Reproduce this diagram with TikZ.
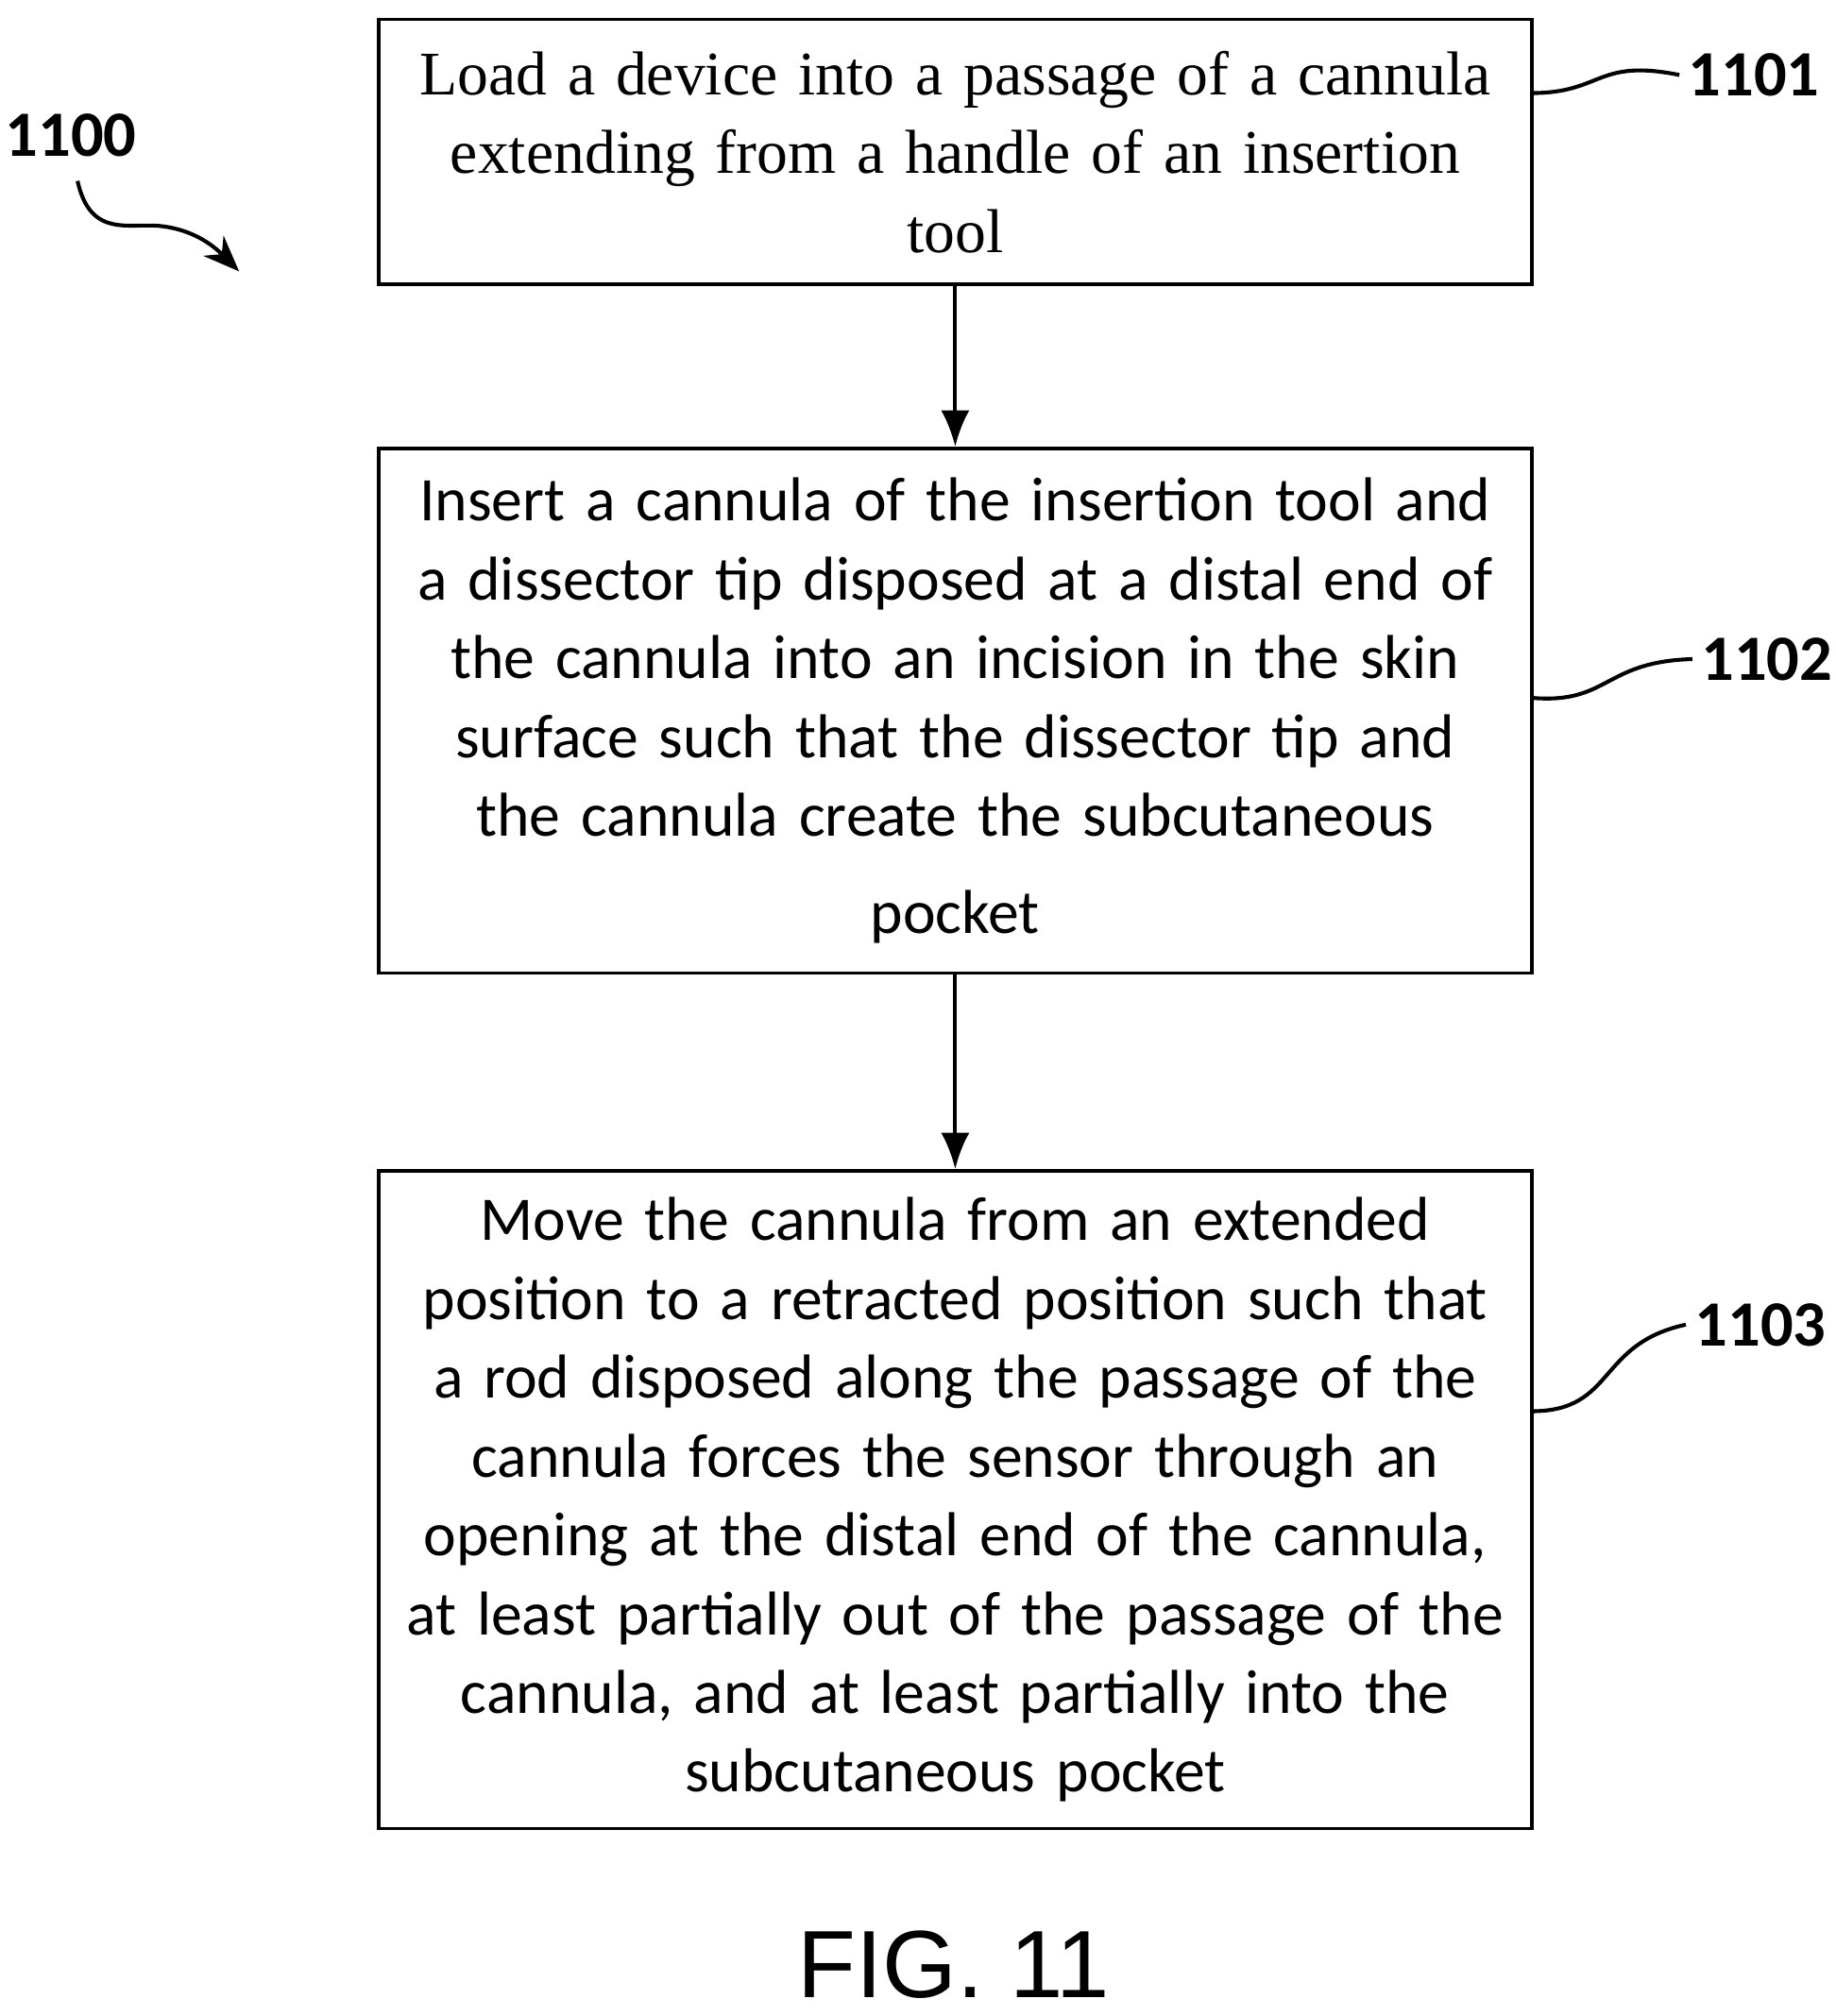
\documentclass[tikz,border=0pt]{standalone}
\usepackage{fontspec}
\usetikzlibrary{arrows.meta}
\setmainfont{Liberation Serif}
\newfontfamily\calfont{Carlito}
\newfontfamily\arsfont{Liberation Sans}
\begin{document}
\begin{tikzpicture}[x=0.5pt,y=-0.5pt,
 box/.style={draw,line width=1.4pt,minimum width=446pt,text width=440pt,align=center,inner sep=0pt},
 lab/.style={font=\calfont\bfseries\fontsize{25}{27}\selectfont},
 lead/.style={line width=1.5pt},
 arr/.style={line width=1.5pt,-{Latex[length=14pt,width=11pt]}}]
\useasboundingbox (0,0) rectangle (1420,1560);
\node[box,minimum height=102.5pt,font=\fontsize{24}{30.5}\selectfont] (b1) at (739,117.5) {Load a device into a passage of a cannula\\ extending from a handle of an insertion\\ tool};
\node[box,minimum height=203pt,font=\calfont\fontsize{24}{30.5}\selectfont] (b2) at (739,550) {Insert a cannula of the insertion tool and\\ a dissector tip disposed at a distal end of\\ the cannula into an incision in the skin\\ surface such that the dissector tip and\\ the cannula create the subcutaneous\\[7pt] pocket};
\node[box,minimum height=254.5pt,font=\calfont\fontsize{24}{30.5}\selectfont] (b3) at (739,1160.5) {Move the cannula from an extended\\ position to a retracted position such that\\ a rod disposed along the passage of the\\ cannula forces the sensor through an\\ opening at the distal end of the cannula,\\ at least partially out of the passage of the\\ cannula, and at least partially into the\\ subcutaneous pocket};
\draw[arr] (b1.south) -- (b2.north);
\draw[arr] (b2.south) -- (b3.north);
\node[lab] (l1) at (1357,58) {1101};
\node[lab] (l2) at (1367,510) {1102};
\node[lab] (l3) at (1362,1025) {1103};
\node[lab] (l0) at (55,105) {1100};
\draw[lead] (1185,72) .. controls (1240,72) and (1235,45) .. (l1.west);
\draw[lead] (1185,540) .. controls (1245,545) and (1240,512) .. (l2.west);
\draw[lead] (1185,1092) .. controls (1250,1092) and (1235,1040) .. (l3.west);
\coordinate (t0) at (185,210);
\draw[lead,-{Stealth[length=14pt,width=11pt]}] (60,140) .. controls (70,185) and (100,172) .. (125,175) .. controls (150,178) and (165,190) .. (t0);
\node[font=\arsfont\fontsize{37}{40}\selectfont] (fig) at (738,1520) {FIG. 11};
\end{tikzpicture}
\end{document}
